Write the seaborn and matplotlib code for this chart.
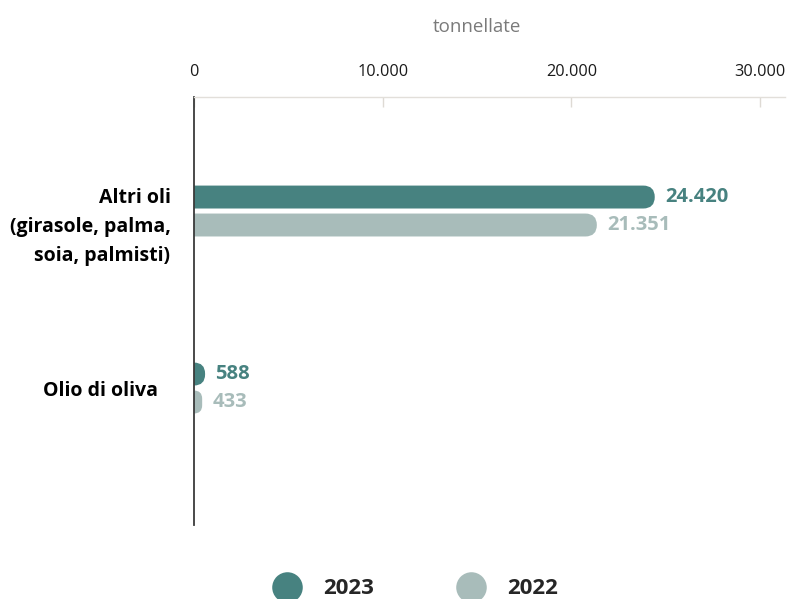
import matplotlib
matplotlib.use("Agg")
import matplotlib.pyplot as plt
from matplotlib.patches import FancyBboxPatch
from matplotlib.lines import Line2D
from matplotlib.ticker import FuncFormatter
from matplotlib.transforms import ScaledTranslation
import pandas as pd
import seaborn as sns

# data
categories = ["Altri oli\n(girasole, palma,\nsoia, palmisti)", "Olio di oliva"]
years = ["2023", "2022"]
values_2023 = [24420, 588]
values_2022 = [21351, 433]
year_colors = {"2023": "#478280", "2022": "#a8bcba"}
x_ticks = [0, 10000, 20000, 30000]

df = pd.DataFrame({
    "categoria": categories * 2,
    "anno": ["2023"] * len(categories) + ["2022"] * len(categories),
    "tonnellate": values_2023 + values_2022,
})

sns.set_theme(style="white")
plt.rcParams["font.family"] = ["Open Sans", "DejaVu Sans"]


def fmt_it(v):
    return f"{v:,.0f}".replace(",", ".")


fig = plt.figure(figsize=(7.87, 5.99), dpi=100)
ax = fig.add_axes([0.2465, 0.1235, 0.751, 0.7145])

sns.barplot(data=df, y="categoria", x="tonnellate", hue="anno", hue_order=years,
            palette=year_colors, orient="h", width=0.316, gap=0.18,
            saturation=1, legend=False, ax=ax)

x_max = 31325
ax.set_xlim(0, x_max)
ax.set_ylim(1.774, -0.644)

# rounded right ends: swap seaborn's rectangles for rounded boxes
xpx = ax.bbox.width / x_max
ypx = ax.bbox.height / 2.418
for container in ax.containers:
    for rect in container:
        x0, y0 = rect.get_x(), rect.get_y()
        w, h = rect.get_width(), rect.get_height()
        r_x = (h * ypx / 2) / xpx
        r = min(r_x, w)
        aspect = (h / 2) / r_x
        patch = FancyBboxPatch((x0 - r, y0), w + r, h,
                               boxstyle=f"round,pad=0,rounding_size={r}",
                               mutation_aspect=aspect,
                               facecolor=rect.get_facecolor(), edgecolor="none")
        rect.set_visible(False)
        ax.add_patch(patch)

# value labels
for container, year in zip(ax.containers, years):
    vals = [rect.get_width() for rect in container]
    ax.bar_label(container, labels=[fmt_it(v) for v in vals], padding=7.5,
                 color=year_colors[year], fontweight="bold", fontsize=14.5)

# axes styling
ax.xaxis.tick_top()
ax.set_xticks(x_ticks)
ax.xaxis.set_major_formatter(FuncFormatter(lambda v, p: fmt_it(v)))
ax.tick_params(axis="x", direction="in", length=7, width=1, color="#dedad4",
               pad=12, labelsize=11.7, labelcolor="#1a1a1a")
ax.tick_params(axis="y", length=0, pad=17)
ax.set_xlabel("")
ax.set_ylabel("")
for lab in ax.get_yticklabels():
    lab.set_fontweight("bold")
    lab.set_fontsize(14)
    lab.set_color("black")
    lab.set_linespacing(1.58)
first, second = ax.get_yticklabels()
first.set_transform(first.get_transform() + ScaledTranslation(0, -0.09, fig.dpi_scale_trans))
second.set_transform(second.get_transform() + ScaledTranslation(-0.12, 0, fig.dpi_scale_trans))

for side in ["bottom", "right"]:
    ax.spines[side].set_visible(False)
ax.spines["top"].set_color("#e2dfda")
ax.spines["top"].set_linewidth(1)
ax.spines["left"].set_color("#3a3a3a")
ax.spines["left"].set_linewidth(1.3)

ax.text(15000 / x_max, 1 + 70 / 428, "tonnellate", transform=ax.transAxes,
        ha="center", va="center", fontsize=13.5, color="#7a7a7a")

handles = [Line2D([], [], marker="o", linestyle="none", markersize=22,
                  markerfacecolor=year_colors[y], markeredgecolor="none") for y in years]
fig.legend(handles, years, loc="center", bbox_to_anchor=(0.527, 0.017), ncol=2,
           frameon=False, prop={"weight": "bold", "size": 16},
           handlelength=1.35, handletextpad=0.95, columnspacing=3.7)

fig.savefig("out.png", dpi=100)
